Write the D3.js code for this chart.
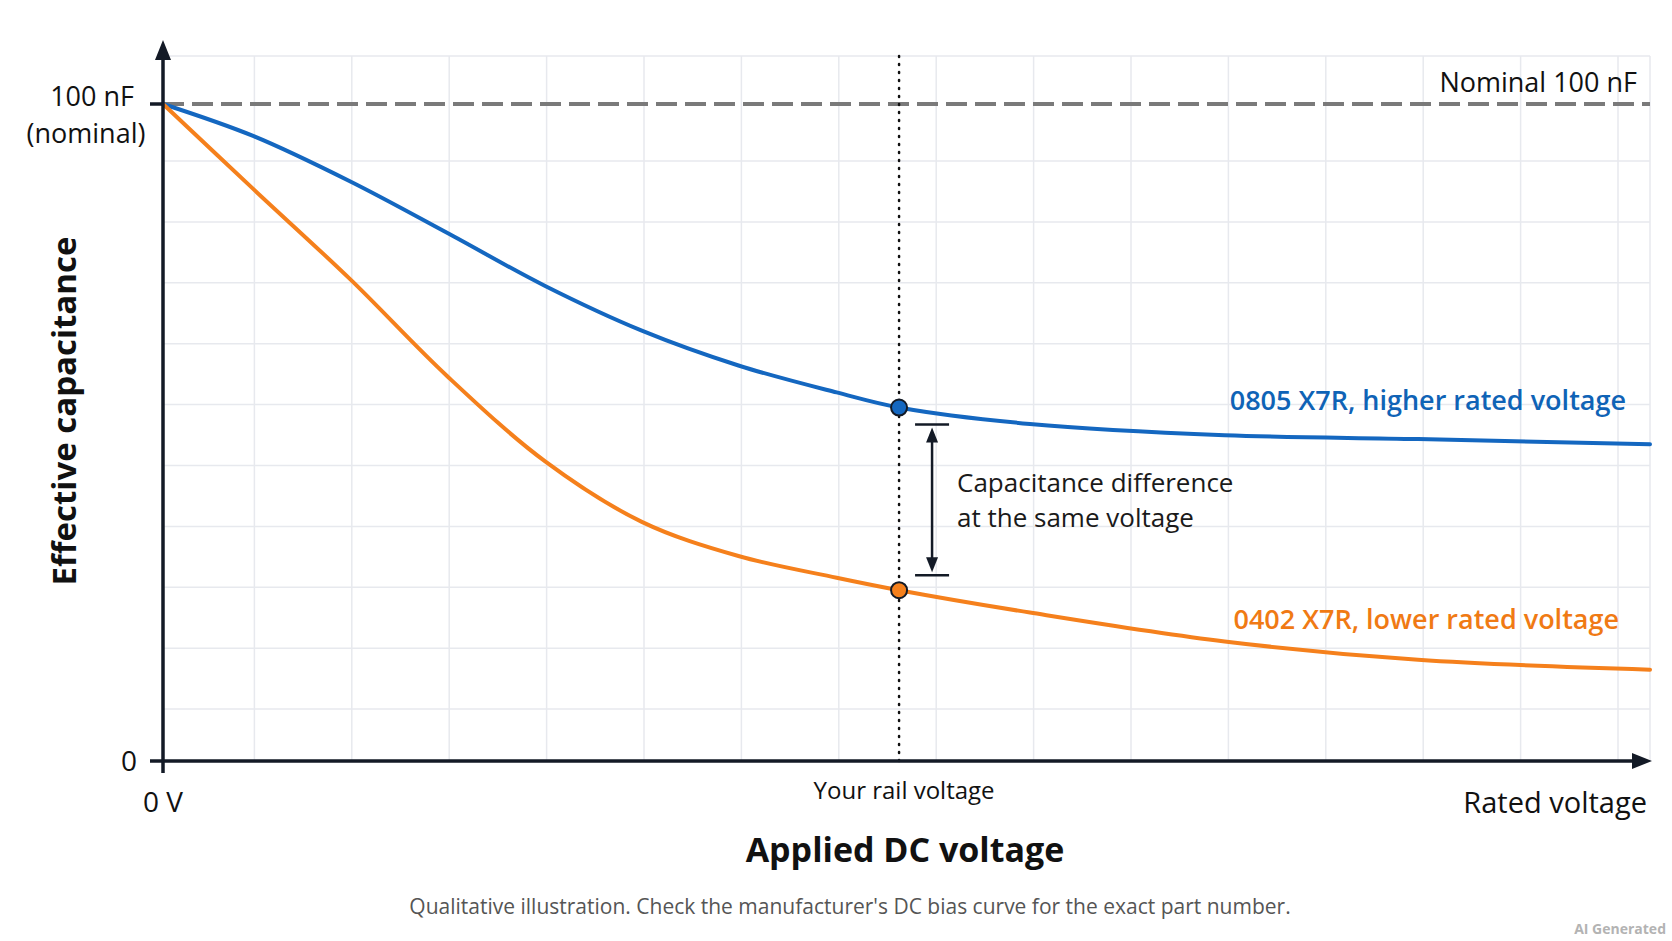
<!DOCTYPE html>
<html>
<head>
<meta charset="utf-8">
<script src="https://cdn.jsdelivr.net/npm/d3@7"></script>
<style>
    html, body { margin: 0; padding: 0; background: #fff; }
    svg { display: block; font-family: "Open Sans", "Noto Sans", sans-serif; }
</style>
</head>
<body>
<svg id="chart" width="1672" height="941"></svg>
<script>
// applied voltage as a fraction of rated voltage (0 V .. rated)
var voltage = [0, 0.061, 0.126, 0.191, 0.257, 0.322, 0.387, 0.453, 0.495, 0.583, 0.714, 0.844, 1.0];
// effective capacitance, nF
var cap0805 = [100, 95.1, 88.2, 80.4, 72.3, 65.5, 60.2, 56.1, 53.8, 51.3, 49.6, 49.0, 48.2];
var cap0402 = [100, 87.0, 73.3, 58.6, 45.6, 36.4, 31.2, 27.9, 26.0, 22.6, 18.2, 15.4, 13.9];

var nominal = 100;
var railVoltage = 0.495;

var seriesNames = ["0805 X7R, higher rated voltage", "0402 X7R, lower rated voltage"];
var seriesColors = ["#1467c0", "#f5801c"];
var labelColors = ["#0f63b6", "#f07a14"];

function draw() {
    var svg = d3.select("#chart"),
        width = 1672,
        height = 941,
        margins = {"left": 163, "right": 22, "top": 56, "bottom": 180},
        ink = "#131a26";

    svg.append("rect").attr("width", width).attr("height", height).attr("fill", "#fff");

    var x = d3.scaleLinear().domain([0, 1]).range([margins.left, width - margins.right]),
        y = d3.scaleLinear().domain([0, nominal]).range([height - margins.bottom, 104]);

    var x0 = x(0), y0 = y(0), xEnd = x(1);

    // background grid (decorative, pixel spaced like the picture)
    var grid = svg.append("g").attr("stroke", "#e7e9ee").attr("stroke-width", 1.5);
    var gx = d3.range(1, 16).map(k => 157 + k * 97.4).filter(v => v < xEnd - 5).concat([xEnd]);
    var gy = d3.range(0, 10).map(k => 161 + k * 60.9).concat([margins.top]);
    grid.selectAll(".vx").data(gx).enter().append("line")
        .attr("x1", d => d).attr("x2", d => d).attr("y1", margins.top).attr("y2", y0);
    grid.selectAll(".hy").data(gy).enter().append("line")
        .attr("x1", x0).attr("x2", xEnd).attr("y1", d => d).attr("y2", d => d);

    // nominal dashed line
    svg.append("line")
        .attr("x1", x0).attr("x2", xEnd).attr("y1", y(nominal)).attr("y2", y(nominal))
        .attr("stroke", "#7a7a7a").attr("stroke-width", 4).attr("stroke-dasharray", "21,8");

    svg.append("text").attr("x", 1637).attr("y", 92).attr("text-anchor", "end")
        .style("font-size", "27px").attr("fill", "#111").text("Nominal 100 nF");

    // rail voltage marker
    svg.append("line")
        .attr("x1", x(railVoltage)).attr("x2", x(railVoltage)).attr("y1", margins.top).attr("y2", y0)
        .attr("stroke", "#111").attr("stroke-width", 2.5).attr("stroke-linecap", "round")
        .attr("stroke-dasharray", "1,7");

    // curves
    var line = d3.line().x(d => x(d[0])).y(d => y(d[1])).curve(d3.curveCatmullRom.alpha(0.5));
    var series = [cap0805, cap0402];

    svg.append("g").attr("fill", "none").attr("stroke-width", 4).attr("stroke-linecap", "round")
        .selectAll("path").data(series).enter().append("path")
        .attr("stroke", (d, i) => seriesColors[i])
        .attr("d", d => line(voltage.map((v, i) => [v, d[i]])));

    var railIdx = voltage.indexOf(railVoltage);
    svg.append("g").selectAll("circle").data(series).enter().append("circle")
        .attr("cx", x(railVoltage)).attr("cy", d => y(d[railIdx])).attr("r", 8)
        .attr("fill", (d, i) => seriesColors[i]).attr("stroke", ink).attr("stroke-width", 2);

    // series labels
    var labelPos = [{"x": 1626, "y": 410}, {"x": 1619, "y": 629}];
    svg.append("g").selectAll("text").data(seriesNames).enter().append("text")
        .attr("x", (d, i) => labelPos[i].x).attr("y", (d, i) => labelPos[i].y)
        .attr("text-anchor", "end").style("font-size", "27px").style("font-weight", 600)
        .attr("fill", (d, i) => labelColors[i]).text(d => d);

    // difference annotation
    var top = y(cap0805[railIdx]) + 17, bot = y(cap0402[railIdx]) - 15, ax = x(railVoltage) + 33;
    var ann = svg.append("g").attr("stroke", ink).attr("stroke-width", 2.5);
    ann.append("line").attr("x1", ax - 17).attr("x2", ax + 17).attr("y1", top).attr("y2", top);
    ann.append("line").attr("x1", ax - 17).attr("x2", ax + 17).attr("y1", bot).attr("y2", bot);
    ann.append("line").attr("x1", ax).attr("x2", ax).attr("y1", top + 10).attr("y2", bot - 10);
    ann.append("path").attr("stroke", "none").attr("fill", ink)
        .attr("d", `M${ax},${top + 3} L${ax - 6},${top + 18} L${ax + 6},${top + 18} Z`);
    ann.append("path").attr("stroke", "none").attr("fill", ink)
        .attr("d", `M${ax},${bot - 3} L${ax - 6},${bot - 18} L${ax + 6},${bot - 18} Z`);

    var note = svg.append("text").attr("x", 957).style("font-size", "26px").attr("fill", "#1a1a1a");
    note.append("tspan").attr("x", 957).attr("y", 492).text("Capacitance difference");
    note.append("tspan").attr("x", 957).attr("y", 527).text("at the same voltage");

    // axes
    var axes = svg.append("g").attr("stroke", ink).attr("stroke-width", 3.5).attr("fill", "none");
    axes.append("line").attr("x1", x0).attr("x2", x0).attr("y1", y0 + 12).attr("y2", 56);
    axes.append("line").attr("x1", x0 - 13).attr("x2", xEnd - 14).attr("y1", y0).attr("y2", y0);
    axes.append("line").attr("x1", x0 - 13).attr("x2", x0).attr("y1", y(nominal)).attr("y2", y(nominal));
    svg.append("path").attr("fill", ink).attr("d", `M${x0},40 L${x0 - 8},60 L${x0 + 8},60 Z`);
    svg.append("path").attr("fill", ink).attr("d", `M${xEnd + 2},${y0} L${xEnd - 18},${y0 - 8} L${xEnd - 18},${y0 + 8} Z`);

    // tick labels
    svg.append("text").attr("x", 134).attr("y", 106).attr("text-anchor", "end")
        .style("font-size", "27px").attr("fill", "#111").text("100 nF");
    svg.append("text").attr("x", 86).attr("y", 143).attr("text-anchor", "middle")
        .style("font-size", "27px").attr("fill", "#111").text("(nominal)");
    svg.append("text").attr("x", 137).attr("y", y0 + 10).attr("text-anchor", "end")
        .style("font-size", "28px").attr("fill", "#111").text("0");
    svg.append("text").attr("x", x0).attr("y", 812).attr("text-anchor", "middle")
        .style("font-size", "28px").attr("fill", "#111").text("0 V");
    svg.append("text").attr("x", x(railVoltage) + 5).attr("y", 799).attr("text-anchor", "middle")
        .style("font-size", "24px").attr("fill", "#111").text("Your rail voltage");
    svg.append("text").attr("x", 1647).attr("y", 813).attr("text-anchor", "end")
        .style("font-size", "29px").attr("fill", "#111").text("Rated voltage");

    // axis titles
    svg.append("text").attr("x", 905).attr("y", 862).attr("text-anchor", "middle")
        .style("font-size", "34px").style("font-weight", "bold").attr("fill", "#111").text("Applied DC voltage");
    svg.append("text").attr("transform", "translate(76,411) rotate(-90)").attr("text-anchor", "middle")
        .style("font-size", "33px").style("font-weight", "bold").attr("fill", "#111").text("Effective capacitance");

    // footnote
    svg.append("text").attr("x", 850).attr("y", 914).attr("text-anchor", "middle")
        .style("font-size", "21px").attr("fill", "#555").text("Qualitative illustration. Check the manufacturer's DC bias curve for the exact part number.");
    svg.append("text").attr("x", 1666).attr("y", 934).attr("text-anchor", "end")
        .style("font-size", "14px").style("font-weight", "bold").attr("fill", "#b3b3b3").text("AI Generated");
}

draw();
</script>
</body>
</html>
